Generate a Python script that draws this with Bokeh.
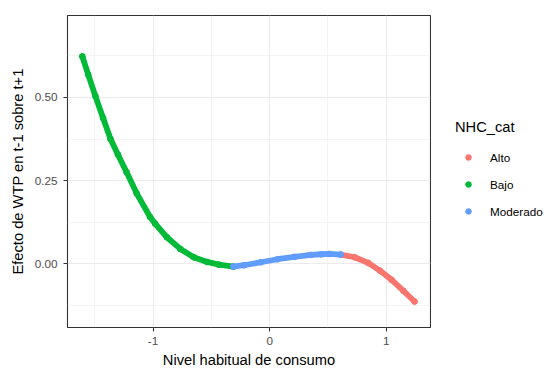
from bokeh.plotting import figure
from bokeh.models import FixedTicker, Legend, LegendItem, Range1d
from bokeh.layouts import row
from bokeh.embed import file_html
from bokeh.resources import INLINE

# ---- data ----
categories = ["Alto", "Bajo", "Moderado"]
colors = ["#F8766D", "#00BA38", "#619CFF"]

bajo_x = [-1.606, -1.556, -1.494, -1.428, -1.364, -1.300, -1.226, -1.140, -1.025,
          -0.982, -0.881, -0.766, -0.651, -0.536, -0.436, -0.311]
bajo_y = [0.623, 0.569, 0.504, 0.438, 0.375, 0.328, 0.275, 0.212, 0.141,
          0.121, 0.080, 0.045, 0.020, 0.006, -0.002, -0.008]

moderado_x = [-0.311, -0.220, -0.076, 0.068, 0.211, 0.355, 0.442, 0.513, 0.608]
moderado_y = [-0.008, -0.004, 0.005, 0.014, 0.021, 0.027, 0.029, 0.030, 0.028]

alto_x = [0.608, 0.729, 0.845, 0.945, 1.046, 1.147, 1.242]
alto_y = [0.028, 0.020, 0.003, -0.020, -0.048, -0.081, -0.113]

x_ticks = [-1, 0, 1]
x_tick_labels = ["-1", "0", "1"]
x_minor = [-1.5, -0.5, 0.5]
y_ticks = [0.0, 0.25, 0.5]
y_tick_labels = ["0.00", "0.25", "0.50"]
y_minor = [-0.125, 0.125, 0.375, 0.625]

FONT = "Liberation Sans"

p = figure(width=431, height=370, output_backend="svg", toolbar_location=None,
           x_range=Range1d(-1.733, 1.379), y_range=Range1d(-0.191, 0.746),
           min_border_left=67, min_border_right=1, min_border_top=15,
           min_border_bottom=43)
p.background_fill_color = "white"
p.border_fill_color = "white"
p.outline_line_color = "#333333"
p.outline_line_width = 1.1

series = {"Alto": (alto_x, alto_y), "Bajo": (bajo_x, bajo_y), "Moderado": (moderado_x, moderado_y)}
for cat, col in zip(categories, colors):
    xs, ys = series[cat]
    p.line(xs, ys, line_width=5.8, line_color=col, line_cap="round", line_join="round")
    p.scatter(xs, ys, size=5.8, fill_color=col, line_color=col)

# axes
p.xaxis.ticker = FixedTicker(ticks=x_ticks, minor_ticks=x_minor)
p.yaxis.ticker = FixedTicker(ticks=y_ticks, minor_ticks=y_minor)
p.xaxis.major_label_overrides = {t: l for t, l in zip(x_ticks, x_tick_labels)}
p.yaxis.major_label_overrides = {t: l for t, l in zip(y_ticks, y_tick_labels)}

for ax in (p.xaxis[0], p.yaxis[0]):
    ax.axis_line_color = None
    ax.major_tick_line_color = "#333333"
    ax.major_tick_line_width = 1.1
    ax.major_tick_out = 4
    ax.major_tick_in = 0
    ax.minor_tick_line_color = None
    ax.major_label_text_font = FONT
    ax.major_label_text_font_size = "11.7px"
    ax.major_label_text_color = "#4D4D4D"
    ax.axis_label_text_font = FONT
    ax.axis_label_text_font_size = "14.7px"
    ax.axis_label_text_font_style = "normal"
    ax.axis_label_text_color = "black"

p.xaxis.major_label_standoff = 5
p.yaxis.major_label_standoff = 6
p.xaxis.axis_label = "Nivel habitual de consumo"
p.yaxis.axis_label = "Efecto de WTP en t-1 sobre t+1"
p.xaxis.axis_label_standoff = 4
p.yaxis.axis_label_standoff = 6

for g in (p.xgrid[0], p.ygrid[0]):
    g.grid_line_color = "#EBEBEB"
    g.grid_line_width = 1.1
    g.minor_grid_line_color = "#EBEBEB"
    g.minor_grid_line_width = 0.55

# ---- legend panel (separate figure to the right; its data lies outside its ranges) ----
lg = figure(width=123, height=370, output_backend="svg", toolbar_location=None,
            x_range=Range1d(10, 11), y_range=Range1d(10, 11),
            min_border_left=0, min_border_right=0, min_border_top=0, min_border_bottom=0)
lg.axis.visible = False
lg.grid.visible = False
lg.outline_line_color = None
lg.background_fill_color = "white"
lg.border_fill_color = "white"

items = []
for cat, col in zip(categories, colors):
    xs, ys = series[cat]
    r = lg.scatter(xs, ys, size=5.8, fill_color=col, line_color=col)
    items.append(LegendItem(label=cat, renderers=[r]))

legend = Legend(items=items, title="NHC_cat", location=(24, 109))
legend.title_text_font = FONT
legend.title_text_font_size = "14.7px"
legend.title_text_font_style = "normal"
legend.title_text_color = "black"
legend.title_standoff = 15
legend.label_text_font = FONT
legend.label_text_font_size = "11.7px"
legend.label_text_color = "black"
legend.glyph_width = 26
legend.glyph_height = 14
legend.spacing = 13
legend.label_standoff = 9
legend.padding = 10
legend.margin = 0
legend.border_line_color = None
legend.background_fill_color = None
lg.add_layout(legend)

layout = row(p, lg, spacing=0)
open("out.html", "w").write(file_html(layout, INLINE))
